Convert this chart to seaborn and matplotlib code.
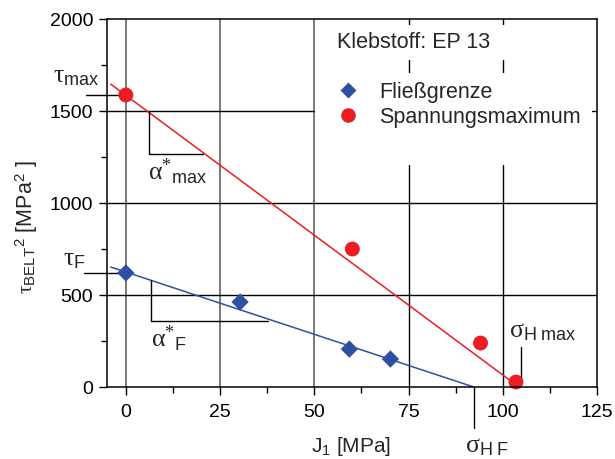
import matplotlib
matplotlib.use("Agg")
import matplotlib.pyplot as plt
import seaborn as sns
import pandas as pd
from matplotlib.lines import Line2D

# ---- data ----
flies_x = [0, 30.3, 59.3, 70.2]
flies_y = [620, 462, 206, 152]
spann_x = [0, 60.1, 94.1, 103.5]
spann_y = [1587, 750, 239, 27]
red_fit_x = [-4, 102]
red_fit_y = [1646, 35]
blue_fit_x = [-4, 92.3]
blue_fit_y = [652, 0]
x_ticks = [0, 25, 50, 75, 100, 125]
y_ticks = [0, 500, 1000, 1500, 2000]
legend_title = "Klebstoff: EP 13"
series_names = ["Fließgrenze", "Spannungsmaximum"]

BLUE = "#2f4fa2"
RED = "#ec1c24"

sns.set_theme(style="ticks")
plt.rcParams["font.family"] = ["Liberation Sans", "DejaVu Sans"]
plt.rcParams["mathtext.fontset"] = "custom"
plt.rcParams["mathtext.rm"] = "Liberation Serif"
plt.rcParams["mathtext.it"] = "Liberation Serif:italic"
plt.rcParams["mathtext.sf"] = "Liberation Sans"
plt.rcParams["mathtext.bf"] = "Liberation Sans:bold"

fig = plt.figure(figsize=(6.15, 4.59), dpi=100)
ax = fig.add_axes([107 / 615, 1 - 387 / 459, 490 / 615, 368 / 459])

ax.set_xlim(-5, 125)
ax.set_ylim(0, 2000)

# grid lines
for xv in [0, 25, 50]:
    ax.axvline(xv, color="#6e6e6e", lw=1.3, zorder=1)
for xv in [75, 100]:
    ax.axvline(xv, color="black", lw=1.0, zorder=1)
for yv in [500, 1000, 1500]:
    ax.axhline(yv, color="black", lw=1.0, zorder=1)

# white legend background
ax.add_patch(plt.Rectangle((0.4245, 0.603), 0.566, 0.25, transform=ax.transAxes,
                           facecolor="white", edgecolor="none", zorder=2))
ax.add_patch(plt.Rectangle((0.4245, 0.889), 0.566, 0.095, transform=ax.transAxes,
                           facecolor="white", edgecolor="none", zorder=2))

# fit lines
sns.lineplot(x=red_fit_x, y=red_fit_y, ax=ax, color=RED, lw=1.1, zorder=3)
sns.lineplot(x=blue_fit_x, y=blue_fit_y, ax=ax, color=BLUE, lw=1.1, zorder=3)

# points
df_f = pd.DataFrame({"x": flies_x, "y": flies_y})
df_s = pd.DataFrame({"x": spann_x, "y": spann_y})
sns.scatterplot(data=df_f, x="x", y="y", ax=ax, marker="D", s=78, color=BLUE,
                edgecolor="none", zorder=4, clip_on=False)
sns.scatterplot(data=df_s, x="x", y="y", ax=ax, marker="o", s=115, color=RED,
                edgecolor="none", zorder=4, clip_on=False)

# annotation lines
kw = dict(color="black", lw=1.0, clip_on=False, zorder=3)
ax.plot([-10.6, 0], [1587, 1587], **kw)
ax.plot([-11.2, 0], [620, 620], **kw)
ax.plot([6.1, 6.1, 20.5], [1500, 1266, 1266], **kw)
ax.plot([6.6, 6.6, 37.8], [580, 359, 359], **kw)
ax.plot([104.8, 104.8], [27, 217], **kw)
ax.plot([92.3, 92.3], [0, -223], **kw)

# annotation texts
tfs = 18.5
ax.text(-19.2, 1658, r"$\mathrm{\tau}_{\mathsf{max}}$", fontsize=tfs, ha="left", va="baseline")
ax.text(-16.8, 663, r"$\mathrm{\tau}_{\mathsf{F}}$", fontsize=tfs, ha="left", va="baseline")
ax.text(6.0, 1125, r"${\mathrm{\alpha}^{*}}_{\mathsf{max}}$", fontsize=tfs, ha="left", va="baseline")
ax.text(6.7, 217, r"${\mathrm{\alpha}^{*}}_{\mathsf{F}}$", fontsize=tfs, ha="left", va="baseline")
ax.text(101.7, 272, r"$\mathrm{\sigma}_{\mathsf{H\ max}}$", fontsize=tfs, ha="left", va="baseline")
ax.text(90.1, -356, r"$\mathrm{\sigma}_{\mathsf{H\ F}}$", fontsize=tfs, ha="left", va="baseline",
        clip_on=False)

# legend
ax.text(0.4694, 0.935, legend_title, transform=ax.transAxes, fontsize=15.5,
        ha="left", va="center", zorder=5)
handles = [
    Line2D([], [], ls="none", marker="D", markersize=8.4, color=BLUE, mec="none"),
    Line2D([], [], ls="none", marker="o", markersize=10.5, color=RED, mec="none"),
]
leg = ax.legend(handles, series_names, loc="upper left", bbox_to_anchor=(0.4706, 0.83),
                frameon=False, fontsize=15.5, handlelength=1.0, handletextpad=0.92,
                borderpad=0, borderaxespad=0, labelspacing=0.2)
leg.set_zorder(5)

# axes styling
ax.set_xticks(x_ticks)
ax.set_yticks(y_ticks)
ax.set_xticks([12.5, 37.5, 62.5, 87.5, 112.5], minor=True)
ax.set_yticks([250, 750, 1250, 1750], minor=True)
ax.tick_params(axis="both", which="major", direction="out", length=6, width=1.0,
               labelsize=14, color="black", labelcolor="black")
ax.tick_params(axis="x", which="major", pad=6)
ax.tick_params(axis="y", which="major", pad=4)
ax.tick_params(axis="both", which="minor", direction="out", length=4, width=1.0, color="black")
ax.tick_params(top=False, right=False)
for sp in ax.spines.values():
    sp.set_visible(True)
    sp.set_color("black")
    sp.set_linewidth(1.1)
    sp.set_zorder(6)

ax.set_xlabel(r"J$_{\mathsf{1}}$ [MPa]", fontsize=15)
ax.set_ylabel(r"${\mathrm{\tau}_{\mathsf{BELT}}}^{\mathsf{2}}$ [MPa$^{\mathsf{2}}$ ]", fontsize=15.5)
ax.xaxis.set_label_coords(0.498, -0.13)
ax.yaxis.set_label_coords(-0.137, 0.435)

fig.savefig("out.png", dpi=100)
